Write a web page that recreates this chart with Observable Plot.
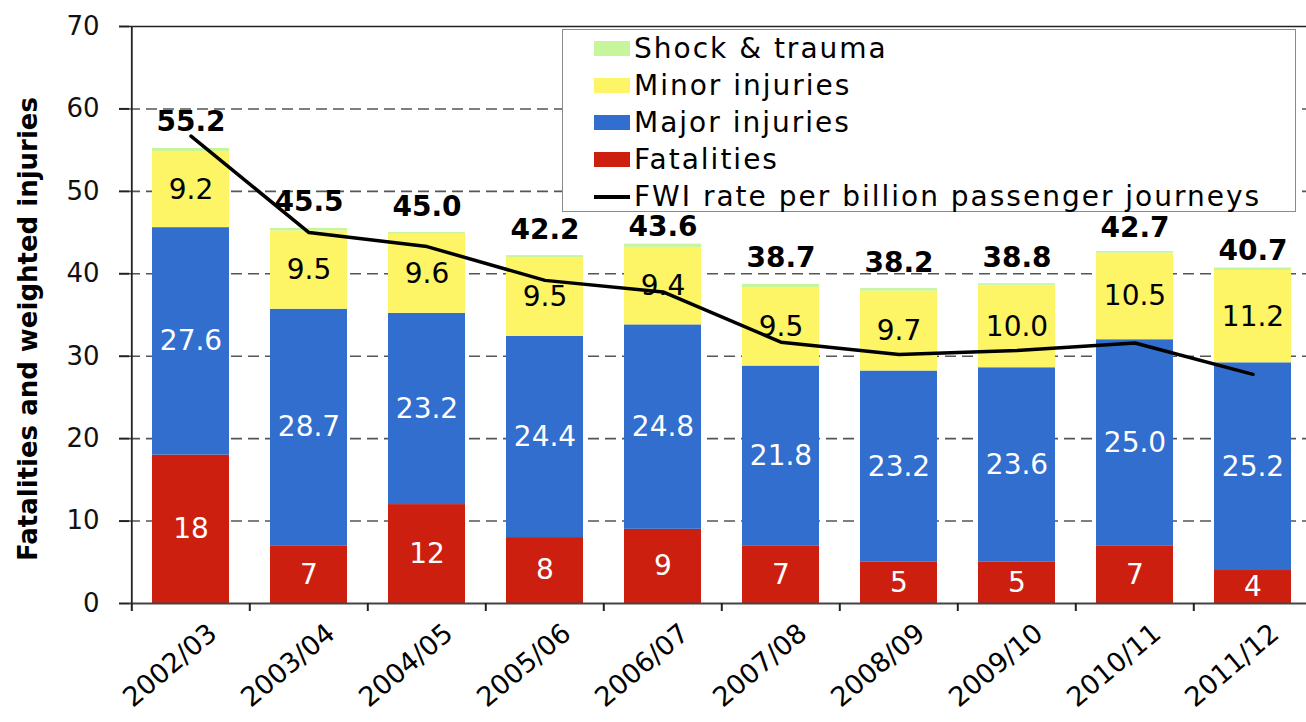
<!DOCTYPE html>
<html>
<head>
<meta charset="utf-8">
<script src="https://cdn.jsdelivr.net/npm/d3@7"></script>
<script src="https://cdn.jsdelivr.net/npm/@observablehq/plot@0.6"></script>
<style>
  html, body { margin: 0; padding: 0; background: #fff; }
  #wrap { position: relative; width: 1306px; height: 722px; overflow: hidden; font-family: "DejaVu Sans", sans-serif; }
  #legend { position: absolute; left: 562px; top: 29px; width: 734px; height: 183px; box-sizing: border-box;
            border: 1.5px solid #8a8a8a; background: #fff; }
  .item { display: flex; align-items: center; height: 37px; }
  .sw { margin-left: 31px; width: 36px; height: 15px; flex: none; }
  .ln { margin-left: 31px; width: 36px; height: 4px; background: #000; flex: none; }
  .lab { margin-left: 4px; font-size: 28px; letter-spacing: 2px; color: #000; white-space: nowrap; }
</style>
</head>
<body>
<div id="wrap"></div>
<script>
const years = ["2002/03","2003/04","2004/05","2005/06","2006/07","2007/08","2008/09","2009/10","2010/11","2011/12"];
const fatalities = [18, 7, 12, 8, 9, 7, 5, 5, 7, 4];
const majorInjuries = [27.6, 28.7, 23.2, 24.4, 24.8, 21.8, 23.2, 23.6, 25.0, 25.2];
const minorInjuries = [9.2, 9.5, 9.6, 9.5, 9.4, 9.5, 9.7, 10.0, 10.5, 11.2];
const shockTrauma = [0.4, 0.3, 0.2, 0.3, 0.4, 0.4, 0.3, 0.2, 0.2, 0.3];
const totals = [55.2, 45.5, 45.0, 42.2, 43.6, 38.7, 38.2, 38.8, 42.7, 40.7];
const fwiRate = [56.7, 45.0, 43.3, 39.2, 37.8, 31.7, 30.2, 30.7, 31.6, 27.8];
const yTicks = [0, 10, 20, 30, 40, 50, 60, 70];
const gridTicks = [10, 20, 30, 40, 50, 60];
const seriesNames = ["Fatalities", "Major injuries", "Minor injuries", "Shock & trauma"];
const seriesColors = ["#cd1f0f", "#316ecd", "#fdf466", "#c6f59c"];
const lineName = "FWI rate per billion passenger journeys";
// total labels that sit closer to their bar in the reference (clear of the legend box)
const closeLabelYears = ["2006/07", "2011/12"];
const nearLabelYears = ["2010/11"];

const seriesValues = [fatalities, majorInjuries, minorInjuries, shockTrauma];
const rows = seriesNames.flatMap((s, si) => years.map((y, i) => ({year: y, series: s, value: seriesValues[si][i]})));
const totalRows = years.map((y, i) => ({year: y, total: totals[i]}));

const whiteLabel = d => d.series === "Fatalities" ? String(d.value)
  : d.series === "Major injuries" ? d.value.toFixed(1) : null;
const blackLabel = d => d.series === "Minor injuries" ? d.value.toFixed(1) : null;
const totalText = d => d.total.toFixed(1);

const chart = Plot.plot({
  width: 1306,
  height: 722,
  marginLeft: 129,
  marginRight: 0,
  marginTop: 26,
  marginBottom: 119,
  style: {fontFamily: "DejaVu Sans, sans-serif", background: "white", overflow: "hidden"},
  x: {type: "band", domain: years, range: [129.3, 1313.3], paddingInner: 0.35, paddingOuter: 0.175, axis: null},
  y: {domain: [0, 70], axis: null},
  color: {domain: seriesNames, range: seriesColors},
  marks: [
    Plot.ruleY(gridTicks, {stroke: "#555", strokeWidth: 1.6, strokeDasharray: "11,6"}),
    Plot.barY(rows, Plot.stackY({x: "year", y: "value", fill: "series", order: null})),
    Plot.ruleY([70], {stroke: "#222", strokeWidth: 1.5}),
    Plot.ruleY([0], {stroke: "#444", strokeWidth: 2}),
    Plot.ruleX([years[0]], {x: d => d, dx: -59.2, y1: 0, y2: 70, stroke: "#222", strokeWidth: 1.8}),
    Plot.ruleX(years, {x: d => d, dx: -59.2, y1: 0, y2: 0, insetBottom: -8, stroke: "#222", strokeWidth: 2}),
    Plot.axisY({ticks: yTicks, tickSize: 10, tickPadding: 20, fontSize: 26, stroke: "#222", strokeWidth: 2,
                fill: "#111", label: null, tickFormat: d => String(d)}),
    Plot.text(["Fatalities and weighted injuries"], {frameAnchor: "left", textAnchor: "middle", lineAnchor: "middle",
                dx: -101, dy: 14, rotate: -90, fontWeight: "bold", fontSize: 26, fill: "#000"}),
    Plot.text(years, {x: d => d, frameAnchor: "bottom", dx: 22, dy: 26, rotate: -40,
                textAnchor: "end", lineAnchor: "middle", fontSize: 27, fill: "#000"}),
    Plot.text(rows, Plot.stackY({x: "year", y: "value", order: null, text: whiteLabel, fill: "white", fontSize: 28})),
    Plot.text(rows, Plot.stackY({x: "year", y: "value", order: null, text: blackLabel, fill: "black", fontSize: 28})),
    Plot.text(totalRows, {filter: d => !closeLabelYears.includes(d.year) && !nearLabelYears.includes(d.year),
                x: "year", y: "total", text: totalText, dy: -26, fontWeight: "bold", fontSize: 28, fill: "#000"}),
    Plot.text(totalRows, {filter: d => nearLabelYears.includes(d.year),
                x: "year", y: "total", text: totalText, dy: -23, fontWeight: "bold", fontSize: 28, fill: "#000"}),
    Plot.text(totalRows, {filter: d => closeLabelYears.includes(d.year),
                x: "year", y: "total", text: totalText, dy: -17, fontWeight: "bold", fontSize: 28, fill: "#000"}),
    Plot.line(years, {x: d => d, y: (d, i) => fwiRate[i], stroke: "#000", strokeWidth: 3.5})
  ]
});

const wrap = document.getElementById("wrap");
wrap.appendChild(chart);

const legend = document.createElement("div");
legend.id = "legend";
const legendItems = [
  {name: seriesNames[3], color: seriesColors[3]},
  {name: seriesNames[2], color: seriesColors[2]},
  {name: seriesNames[1], color: seriesColors[1]},
  {name: seriesNames[0], color: seriesColors[0]},
  {name: lineName, line: true}
];
for (const it of legendItems) {
  const row = document.createElement("div");
  row.className = "item";
  const sw = document.createElement("div");
  sw.className = it.line ? "ln" : "sw";
  if (!it.line) sw.style.background = it.color;
  const lab = document.createElement("span");
  lab.className = "lab";
  lab.textContent = it.name;
  row.appendChild(sw);
  row.appendChild(lab);
  legend.appendChild(row);
}
wrap.appendChild(legend);
</script>
</body>
</html>
